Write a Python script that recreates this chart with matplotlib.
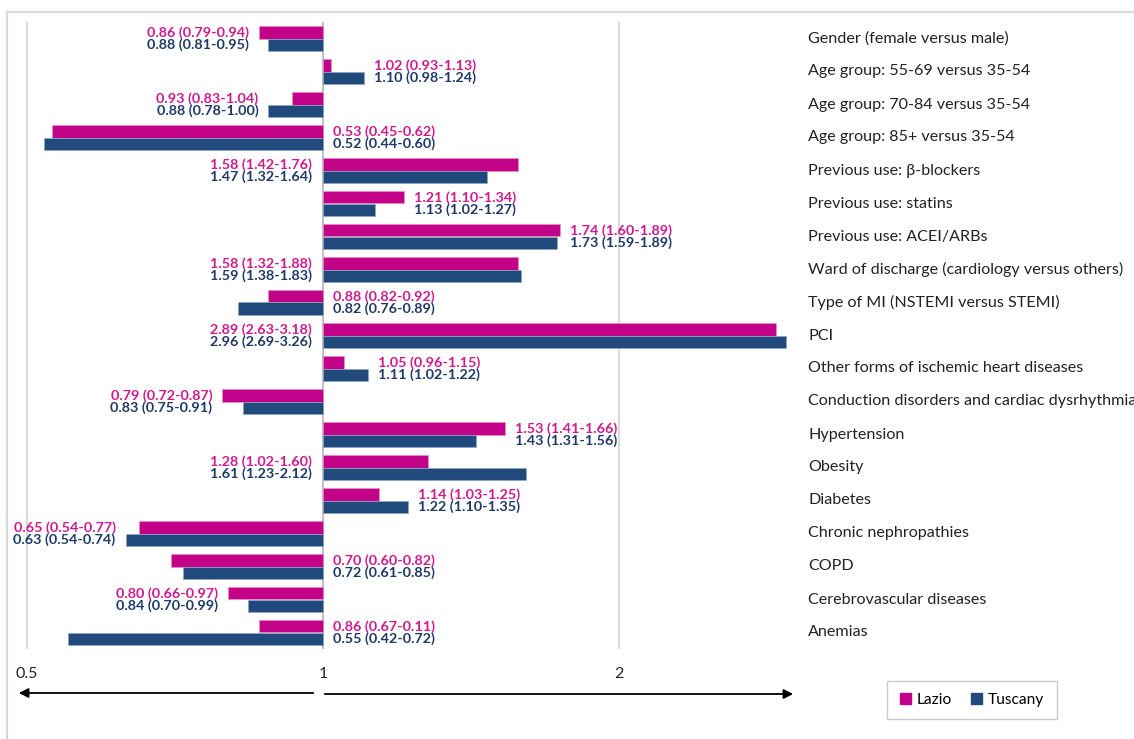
import matplotlib
matplotlib.use('Agg')
import matplotlib.pyplot as plt
from matplotlib.patches import Patch, FancyArrowPatch
from matplotlib.lines import Line2D
from matplotlib import transforms

categories = ['Gender (female versus male)', 'Age group: 55-69 versus 35-54',
              'Age group: 70-84 versus 35-54', 'Age group: 85+ versus 35-54',
              'Previous use: β-blockers', 'Previous use: statins',
              'Previous use: ACEI/ARBs', 'Ward of discharge (cardiology versus others)',
              'Type of MI (NSTEMI versus STEMI)', 'PCI',
              'Other forms of ischemic heart diseases',
              'Conduction disorders and cardiac dysrhythmias', 'Hypertension',
              'Obesity', 'Diabetes', 'Chronic nephropathies', 'COPD',
              'Cerebrovascular diseases', 'Anemias']

lazio = [0.86, 1.02, 0.93, 0.53, 1.58, 1.21, 1.74, 1.58, 0.88, 2.89,
         1.05, 0.79, 1.53, 1.28, 1.14, 0.65, 0.70, 0.80, 0.86]
lazio_ci = ['0.79-0.94', '0.93-1.13', '0.83-1.04', '0.45-0.62', '1.42-1.76',
            '1.10-1.34', '1.60-1.89', '1.32-1.88', '0.82-0.92', '2.63-3.18',
            '0.96-1.15', '0.72-0.87', '1.41-1.66', '1.02-1.60', '1.03-1.25',
            '0.54-0.77', '0.60-0.82', '0.66-0.97', '0.67-0.11']
tuscany = [0.88, 1.10, 0.88, 0.52, 1.47, 1.13, 1.73, 1.59, 0.82, 2.96,
           1.11, 0.83, 1.43, 1.61, 1.22, 0.63, 0.72, 0.84, 0.55]
tuscany_ci = ['0.81-0.95', '0.98-1.24', '0.78-1.00', '0.44-0.60', '1.32-1.64',
              '1.02-1.27', '1.59-1.89', '1.38-1.83', '0.76-0.89', '2.69-3.26',
              '1.02-1.22', '0.75-0.91', '1.31-1.56', '1.23-2.12', '1.10-1.35',
              '0.54-0.74', '0.61-0.85', '0.70-0.99', '0.42-0.72']

# where the labels of each row sit: at the bar ends or next to the line at 1
label_side = ['end', 'end', 'end', 'axis', 'axis', 'end', 'end', 'axis', 'axis', 'axis',
              'end', 'end', 'end', 'axis', 'end', 'end', 'axis', 'end', 'axis']

ticks = [0.5, 1, 2]
tick_labels = ['0.5', '1', '2']

c_lazio, c_lazio_txt = '#C3028A', '#CF1A8F'
c_tusc, c_tusc_txt = '#1F4A7B', '#1F3A68'

plt.rcParams['font.family'] = ['Lato', 'DejaVu Sans']

W, H = 1134, 739
fig = plt.figure(figsize=(W / 100, H / 100), dpi=100)
ax = fig.add_axes([10 / W, (H - 649) / H, 785 / W, 627 / H])

ax.set_xscale('log')
ax.set_xlim(0.4806, 3.02)
ax.set_ylim(18.5, -0.5)

n = len(categories)
ys = list(range(n))
bh = 0.38
ax.barh([y - bh / 2 for y in ys], [v - 1 for v in lazio], left=1, height=bh,
        color=c_lazio, edgecolor='#E88CC4', linewidth=0.5, zorder=3)
ax.barh([y + bh / 2 for y in ys], [v - 1 for v in tuscany], left=1, height=bh,
        color=c_tusc, edgecolor='#8FA6C4', linewidth=0.5, zorder=3)

for g in ticks:
    ax.axvline(g, color='#D9D9D9' if g != 1 else '#BFBFBF', lw=1.4, zorder=1)

ax.set_xticks(ticks)
ax.set_xticklabels(tick_labels)
ax.xaxis.set_minor_locator(matplotlib.ticker.NullLocator())
ax.tick_params(axis='x', length=0, pad=13, labelsize=11.5, colors='#222222')
ax.set_yticks([])
for s in ax.spines.values():
    s.set_visible(False)

# data labels
for i in ys:
    a, b = lazio[i], tuscany[i]
    below = a < 1
    if label_side[i] == 'end':
        x = min(a, b) if below else max(a, b)
        dx, ha = (-10, 'right') if below else (10, 'left')
    else:
        x = 1
        dx, ha = (10, 'left') if below else (-11, 'right')
    for v, ci, yy, col in [(a, lazio_ci[i], i - bh / 2, c_lazio_txt),
                           (b, tuscany_ci[i], i + bh / 2, c_tusc_txt)]:
        ax.annotate('%.2f (%s)' % (v, ci), xy=(x, yy), xytext=(dx * 0.72, 0),
                    textcoords='offset points', ha=ha, va='center',
                    fontsize=10.4, fontweight='bold', color=col, zorder=4)

# category names on the right
tr = transforms.blended_transform_factory(fig.transFigure, ax.transData)
for i, name in enumerate(categories):
    fig.text(808 / W, i, name, transform=tr, ha='left', va='center',
             fontsize=11.6, color='#222222')

# arrows under the axis
arr = dict(arrowstyle='-|>', color='black', lw=1.3, mutation_scale=14)
fig.add_artist(FancyArrowPatch((316 / W, 1 - 693 / H), (16 / W, 1 - 693 / H),
                               transform=fig.transFigure, **arr))
fig.add_artist(FancyArrowPatch((322 / W, 1 - 694 / H), (796 / W, 1 - 694 / H),
                               transform=fig.transFigure, **arr))

# outer frame (cut by the image edges)
fig.add_artist(Line2D([7 / W, 7 / W], [0, 1 - 12 / H], transform=fig.transFigure,
                      color='#D9D9D9', lw=1.6))
fig.add_artist(Line2D([7 / W, 1], [1 - 12 / H, 1 - 12 / H], transform=fig.transFigure,
                      color='#D9D9D9', lw=1.6))

handles = [Patch(color=c_lazio), Patch(color=c_tusc)]
leg = fig.legend(handles, ['Lazio', 'Tuscany'], ncol=2, loc='center',
                 bbox_to_anchor=(972 / W, 1 - 700 / H), frameon=True, fancybox=False,
                 edgecolor='#BFBFBF', handlelength=0.7, handleheight=0.7,
                 handletextpad=0.4, columnspacing=1.2, borderpad=0.8, fontsize=11.2)
leg.get_frame().set_linewidth(1.0)

fig.savefig('out.png', dpi=100)
